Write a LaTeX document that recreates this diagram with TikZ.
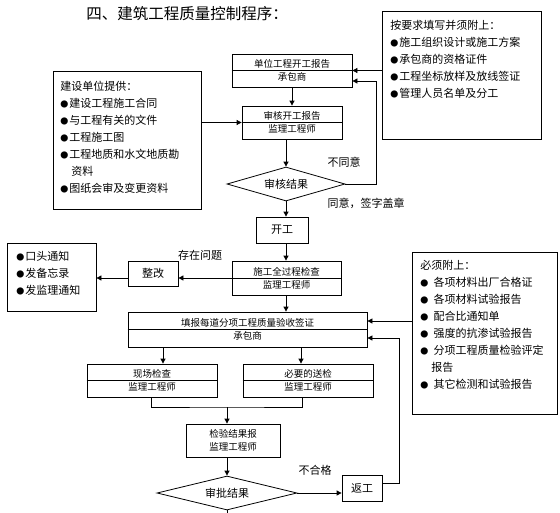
\documentclass[tikz,border=0pt]{standalone}
\usepackage{fontspec}
\newfontfamily\cjk{Noto Sans CJK SC}
\usetikzlibrary{shapes.geometric, arrows.meta, calc}
\newcommand\bul{\makebox[9pt][l]{\fontsize{8}{8}\selectfont●}}

\begin{document}
\begin{tikzpicture}[x=1pt, y=-1pt, line width=0.8pt,
    font=\cjk\fontsize{9.5}{13}\selectfont,
    flowbox/.style={draw, align=center, inner sep=0pt},
    choice/.style={draw, diamond, aspect=3.5, inner sep=0pt, font=\cjk\fontsize{11}{13}\selectfont},
    tag/.style={font=\cjk\fontsize{11}{13}\selectfont},
    itemtxt/.style={anchor=north west, align=left, inner sep=0pt, font=\cjk\fontsize{11}{17}\selectfont},
    link/.style={-{Triangle[length=5pt,width=5pt]}}]
    \useasboundingbox (0,0) rectangle (560,512);
    % title
    \node[font=\cjk\fontsize{15.5}{18}\selectfont] (title) at (187,14) {四、建筑工程质量控制程序：};

    % boxes with lists
    \node[flowbox, minimum width=159pt, minimum height=128pt] (req) at (461.5,75) {};
    \node[itemtxt] (reqtxt) at (390,20) {按要求填写并须附上：\\\bul 施工组织设计或施工方案\\\bul 承包商的资格证件\\\bul 工程坐标放样及放线签证\\\bul 管理人员名单及分工};
    \node[flowbox, minimum width=148pt, minimum height=138pt] (build) at (127,140) {};
    \node[itemtxt] (buildtxt) at (60,81) {建设单位提供：\\\bul 建设工程施工合同\\\bul 与工程有关的文件\\\bul 工程施工图\\\bul 工程地质和水文地质勘\\\hspace{11pt}资料\\\bul 图纸会审及变更资料};
    \node[flowbox, minimum width=89pt, minimum height=68pt] (notify) at (51.5,277) {};
    \node[itemtxt] (notifytxt) at (16,251) {\bul 口头通知\\\bul 发备忘录\\\bul 发监理通知};
    \node[flowbox, minimum width=145pt, minimum height=162pt] (must) at (484.5,333) {};
    \node[itemtxt] (musttxt) at (420,260) {必须附上：\\\bul\, 各项材料出厂合格证\\\bul\, 各项材料试验报告\\\bul\, 配合比通知单\\\bul\, 强度的抗渗试验报告\\\bul\, 分项工程质量检验评定\\\hspace{11pt}报告\\\bul\, 其它检测和试验报告};

    % main flow
    \node[flowbox, minimum width=120pt, minimum height=33pt] (start) at (292,70.5) {单位工程开工报告\\承包商};
    \draw (start.west) -- (start.east);
    \node[flowbox, minimum width=100pt, minimum height=33pt] (review) at (292,122.5) {审核开工报告\\监理工程师};
    \draw (review.west) -- (review.east);
    \node[choice, minimum width=118pt, minimum height=34pt] (dia1) at (286,184) {审核结果};
    \node[flowbox, tag, minimum width=52pt, minimum height=26pt] (kaigong) at (282,230) {开工};
    \node[flowbox, minimum width=109pt, minimum height=34pt] (check) at (286.5,278) {施工全过程检查\\监理工程师};
    \draw (check.west) -- (check.east);
    \node[flowbox, tag, minimum width=50pt, minimum height=25pt] (fix) at (153,273.5) {整改};
    \node[flowbox, minimum width=239pt, minimum height=35pt] (fill) at (247.5,329.5) {填报每道分项工程质量验收签证\\承包商};
    \draw (fill.west) -- (fill.east);
    \node[flowbox, minimum width=130pt, minimum height=33pt] (site) at (152,380.5) {现场检查\\监理工程师};
    \draw (site.west) -- (site.east);
    \node[flowbox, minimum width=130pt, minimum height=33pt] (send) at (308,380.5) {必要的送检\\监理工程师};
    \draw (send.west) -- (send.east);
    \node[flowbox, minimum width=94pt, minimum height=33pt] (result) at (233,440.5) {检验结果报\\监理工程师};
    \node[choice, minimum width=140pt, minimum height=34pt] (dia2) at (227,493) {审批结果};
    \node[flowbox, tag, minimum width=40pt, minimum height=26pt] (redo) at (362,488) {返工};

    % labels
    \node[tag] (disagree) at (344,162) {不同意};
    \node[tag] (agree) at (366,203) {同意，签字盖章};
    \node[tag] (problem) at (200,255) {存在问题};
    \node[tag] (fail) at (315,470) {不合格};

    % connectors
    \draw[link] (req.west |- start.east) -- (start.east);
    \draw[link] (dia1.east) -- ++(31,0) |- ([yshift=-10.5pt]start.east);
    \draw[link] (start.south) -- (start.south |- review.north);
    \draw[link] (build.east |- review.west) -- (review.west);
    \draw[link] (dia1.north |- review.south) -- (dia1.north);
    \draw[link] (dia1.south) -- (dia1.south |- kaigong.north);
    \draw[link] (kaigong.south -| dia1.south) -- (check.north -| dia1.south);
    \draw[link] (check.west) -- (fix.east |- check.west);
    \draw[link] (fix.west |- check.west) -- (notify.east |- check.west);
    \draw[link] (check.south -| dia1.south) -- (fill.north -| dia1.south);
    \coordinate (fillin) at ([yshift=8.5pt]fill.east);
    \coordinate (fillback) at ([yshift=-8.5pt]fill.east);
    \draw[link] (must.west |- fillin) -- (fillin);
    \draw[link] ([yshift=5pt]redo.east) -- ++(17,0) |- (fillback);
    \draw[link] ([xshift=11pt]site.north |- fill.south) -- ([xshift=11pt]site.north);
    \draw[link] ([xshift=-7pt]send.north |- fill.south) -- ([xshift=-7pt]send.north);
    \coordinate (merge) at (227,407);
    \draw ([xshift=-1pt]site.south) |- (merge) -| ([xshift=-6pt]send.south);
    \draw[link] (merge) -- (merge |- result.north);
    \draw[link] (merge |- result.south) -- (dia2.north);
    \draw[link] (dia2.east) -- (redo.west |- dia2.east);
    \coordinate (tail) at (227,514);
    \draw (dia2.south) -- (tail);
\end{tikzpicture}
\end{document}
